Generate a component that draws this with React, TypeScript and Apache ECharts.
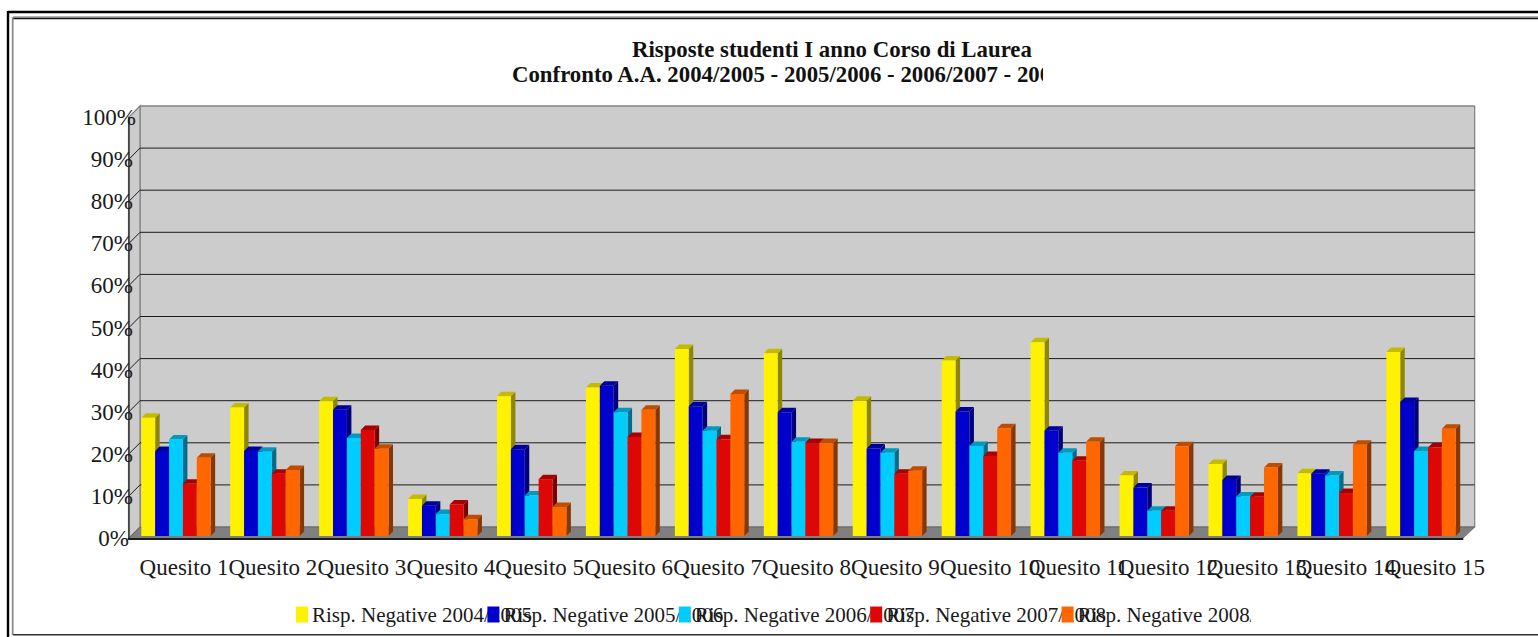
import React, { useEffect, useRef } from "react";
import * as echarts from "echarts";

const categories = ["Quesito 1","Quesito 2","Quesito 3","Quesito 4","Quesito 5","Quesito 6","Quesito 7","Quesito 8","Quesito 9","Quesito 10","Quesito 11","Quesito 12","Quesito 13","Quesito 14","Quesito 15"];
const risp2004 = [28.1,30.5,32,8.8,33.2,35.3,44.4,43.4,32.1,41.7,46,14.4,17.1,14.9,43.7];
const risp2005 = [20.2,20.2,30,7.2,20.6,35.7,30.8,29.4,20.8,29.6,25,11.5,13.3,14.8,31.8];
const risp2006 = [22.9,20,23.3,5.2,9.6,29.4,25,22.4,19.8,21.4,19.8,6,9.4,14.4,20.2];
const risp2007 = [12.4,14.8,25.2,7.5,13.5,23.5,23,22.1,14.8,19,17.9,6,9.3,10.2,21];
const risp2008 = [18.6,15.7,20.7,4,6.9,30,33.7,22.1,15.5,25.6,22.4,21.3,16.3,21.7,25.5];
const gridValues = [10,20,30,40,50,60,70,80,90,100];
const seriesNames = ["Risp. Negative 2004/2005","Risp. Negative 2005/2006","Risp. Negative 2006/2007","Risp. Negative 2007/2008","Risp. Negative 2008/2009"];
const seriesValues = [risp2004,risp2005,risp2006,risp2007,risp2008];
const fronts = ["#FFF200","#0000CC","#00CCFF","#DD0806","#FF6600"];
const tops = ["#C4BA00","#00009A","#009ABF","#A80000","#BF4D00"];
const sides = ["#8E8600","#000078","#006C8A","#7A0000","#863800"];

const FONT = '"Liberation Serif", serif';
const DEPTH = 11.5;
const BAR_DEPTH = 4.5;
const BASE_LIFT = 2.5;

function App() {
  const ref = useRef<HTMLDivElement>(null);
  useEffect(() => {
    const chart = echarts.init(ref.current!, undefined, { renderer: "svg" });
    const wallSeries: any = {
      type: "custom", coordinateSystem: "cartesian2d", silent: true, z: 1,
      data: [[0, 0]],
      renderItem: (params: any, api: any) => {
        const c = params.coordSys;
        const l = c.x, r = c.x + c.width, t = c.y, b = c.y + c.height;
        const border = { stroke: "#808080", lineWidth: 1.2 };
        return { type: "group", children: [
          { type: "polygon", shape: { points: [[l+DEPTH,t-DEPTH],[r+DEPTH+0.7,t-DEPTH],[r+DEPTH+0.7,b-DEPTH],[l+DEPTH,b-DEPTH]] }, style: { fill: "#CCCCCC", ...border } },
          { type: "polygon", shape: { points: [[l,t],[l+DEPTH,t-DEPTH],[l+DEPTH,b-DEPTH],[l,b]] }, style: { fill: "#CCCCCC", ...border } },
          { type: "polygon", shape: { points: [[l,b],[l+DEPTH,b-DEPTH],[r+DEPTH+0.7,b-DEPTH],[r,b]] }, style: { fill: "#808080", stroke: "#666666", lineWidth: 1 } },
        ] };
      },
      encode: { x: 0, y: 1 },
    };
    const gridSeries: any = {
      type: "custom", coordinateSystem: "cartesian2d", silent: true, z: 2,
      data: gridValues.map((v) => [0, v]),
      renderItem: (params: any, api: any) => {
        const c = params.coordSys;
        const v = api.value(1);
        const y = api.coord([0, v])[1];
        return { type: "polyline", shape: { points: [[c.x,y],[c.x+DEPTH,y-DEPTH],[c.x+c.width+DEPTH+0.7,y-DEPTH]] },
          style: { fill: "none", stroke: v === 100 ? "#808080" : "#1c1c1c", lineWidth: 1 } };
      },
      encode: { x: 0, y: 1 },
    };
    const barSeries: any[] = seriesNames.map((name, si) => ({
      type: "custom", name, coordinateSystem: "cartesian2d", silent: true, z: 3 + si,
      itemStyle: { color: fronts[si] },
      data: seriesValues[si].map((v, i) => [i, v]),
      encode: { x: 0, y: 1 },
      renderItem: (params: any, api: any) => {
        const idx = api.value(0), v = api.value(1);
        const catW = api.size([1, 0])[0];
        const w = catW * 0.156;
        const cx = api.coord([idx, v])[0];
        const x = cx + 3 - 2.5 * w + si * w;
        const top = api.coord([idx, v])[1] - BASE_LIFT;
        const base = api.coord([idx, 0])[1] - BASE_LIFT;
        const d = BAR_DEPTH;
        return { type: "group", children: [
          { type: "polygon", shape: { points: [[x+w,top],[x+w+d,top-d],[x+w+d,base-d],[x+w,base]] }, style: { fill: sides[si] } },
          { type: "polygon", shape: { points: [[x,top],[x+d,top-d],[x+w+d,top-d],[x+w,top]] }, style: { fill: tops[si] } },
          { type: "rect", shape: { x, y: top, width: w, height: base - top }, style: { fill: fronts[si] } },
        ] };
      },
    }));
    const frameLine = (x1: number, y1: number, x2: number, y2: number, stroke: string, lineWidth: number) => ({
      type: "line", z: 200, silent: true, shape: { x1, y1, x2, y2 }, style: { stroke, lineWidth },
    });
    chart.setOption({
      animation: false,
      backgroundColor: "#FFFFFF",
      title: [
        { text: "Risposte studenti I anno Corso di Laurea", left: 627, top: 33, textStyle: { fontFamily: FONT, fontWeight: "bold", fontSize: 22.8, color: "#111111" } },
        { text: "Confronto A.A. 2004/2005 - 2005/2006 - 2006/2007 - 200", left: 507, top: 58, textStyle: { fontFamily: FONT, fontWeight: "bold", fontSize: 22.8, color: "#111111" } },
      ],
      grid: { left: 128.5, right: 75.5, top: 117.5, bottom: 98.5, containLabel: false },
      legend: {
        left: 291, top: 599, icon: "rect", itemWidth: 12, itemHeight: 16, itemGap: -44.5, selectedMode: false,
        data: seriesNames,
        formatter: (n: string) => n,
        textStyle: { fontFamily: FONT, fontSize: 21, color: "#1a1a1a", padding: [0, 0, 0, -1] },
      },
      xAxis: {
        type: "category", data: categories, z: 10,
        axisLine: { lineStyle: { color: "#1c1c1c", width: 2 } },
        axisTick: { length: 8, lineStyle: { color: "#555555", width: 1 } },
        axisLabel: { interval: 0, align: "left", margin: 17, padding: [0, 0, 0, -33.4], fontFamily: FONT, fontSize: 23, color: "#1a1a1a", hideOverlap: false },
        splitLine: { show: false },
      },
      yAxis: {
        type: "value", min: 0, max: 100, interval: 10, z: 10,
        axisLine: { show: true, lineStyle: { color: "#333333", width: 1.5 } },
        axisTick: { show: false },
        splitLine: { show: false },
        axisLabel: {
          margin: -7.5,
          formatter: (v: number) => (v === 100 ? `{a|${v}%}` : v === 0 ? `{c|${v}%}` : `{b|${v}%}`),
          rich: {
            a: { fontFamily: FONT, fontSize: 23, color: "#1a1a1a" },
            b: { fontFamily: FONT, fontSize: 23, color: "#1a1a1a", padding: [0, 3, 0, 0] },
            c: { fontFamily: FONT, fontSize: 23, color: "#1a1a1a", padding: [0, 7, 0, 0] },
          },
        },
      },
      series: [wallSeries, gridSeries, ...barSeries],
      graphic: [
        { type: "rect", z: 150, silent: true, shape: { x: 1043, y: 56, width: 60, height: 36 }, style: { fill: "#FFFFFF" } },
        { type: "rect", z: 150, silent: true, shape: { x: 1251, y: 600, width: 120, height: 32 }, style: { fill: "#FFFFFF" } },
        frameLine(8, 12, 1538, 12, "#000000", 2.4),
        frameLine(8, 11, 8, 637, "#000000", 2.4),
        frameLine(13, 17, 1538, 17, "#999999", 1.5),
        frameLine(13, 18.5, 1538, 18.5, "#111111", 1.3),
        frameLine(12.7, 17, 12.7, 635, "#8c8c8c", 1.8),
        frameLine(13, 634.8, 1538, 634.8, "#333333", 1.5),
      ],
    });
    return () => chart.dispose();
  }, []);
  return <div ref={ref} style={{ position: "fixed", left: 0, top: 0, width: 1538, height: 637 }} />;
}

export default App;
